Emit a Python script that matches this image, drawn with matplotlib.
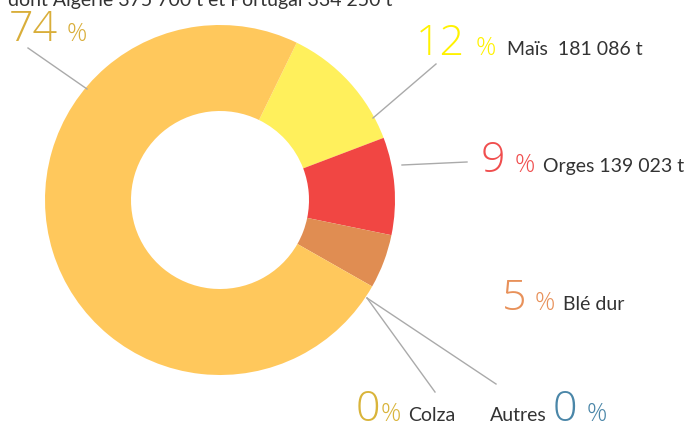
import matplotlib.pyplot as plt

# Répartition (%) - ordre horaire depuis le haut à droite
labels = ['Maïs', 'Orges', 'Blé dur', 'Colza', 'Autres', 'Blé tendre']
shares = [12, 9, 5, 0, 0, 74]
colors = ['#FFF05C', '#F14643', '#E08D52', '#E0B040', '#4A86A8', '#FFC85C']
pct_colors = ['#FFF200', '#F04E4E', '#E8915A', '#D9B43A', '#4A86A8', '#D9AE3A']
tonnages = ['181 086 t', '139 023 t', '', '', '', '']
header = "dont Algérie 375 700 t et Portugal 334 250 t"

W, H = 696, 425
CX, CY, R, R_IN = 220, 425 - 200, 175, 89

plt.rcParams['font.family'] = ['Lato', 'DejaVu Sans']

fig = plt.figure(figsize=(W / 100, H / 100), dpi=100)
ax = fig.add_axes([0, 0, 1, 1])
ax.pie(shares, colors=colors, startangle=64, counterclock=False,
       center=(CX, CY), radius=R, frame=True,
       wedgeprops=dict(width=R - R_IN, linewidth=0))
ax.set_xlim(0, W)
ax.set_ylim(0, H)
ax.set_aspect('equal')
ax.axis('off')

grey = '#AAAAAA'
dark = '#333333'


def line(x0, y0, x1, y1):
    ax.plot([x0, x1], [H - y0, H - y1], color=grey, lw=1)


def txt(x, y, s, size, color, thin=False):
    kw = dict(family=['Open Sans', 'DejaVu Sans'], fontweight='light') if thin else {}
    ax.text(x, H - y, s, fontsize=size, color=color, ha='left', va='baseline', **kw)


# header cut at top edge
txt(8, 6, header, 14, dark)

# leader lines
line(28, 48, 87, 89)
line(436, 64, 373, 118)
line(402, 165, 467, 162)
line(367, 298, 435, 392)
line(367, 298, 496, 384)

# 74 %
txt(9, 41, f"{shares[5]}", 31, pct_colors[5], True)
txt(67, 41, "%", 18, pct_colors[5], True)
# 12 % Maïs
txt(416, 55, f"{shares[0]}", 31, pct_colors[0], True)
txt(476, 55, "%", 18, pct_colors[0], True)
txt(507, 55, f"{labels[0]}  {tonnages[0]}", 14, dark)
# 9 % Orges
txt(481, 172, f"{shares[1]}", 31, pct_colors[1], True)
txt(515, 172, "%", 18, pct_colors[1], True)
txt(543, 172, f"{labels[1]} {tonnages[1]}", 14, dark)
# 5 % Blé dur
txt(502, 310, f"{shares[2]}", 31, pct_colors[2], True)
txt(535, 310, "%", 18, pct_colors[2], True)
txt(563, 310, labels[2], 14, dark)
# 0% Colza
txt(356, 421, f"{shares[3]}", 31, pct_colors[3], True)
txt(381, 421, "%", 18, pct_colors[3], True)
txt(408, 421, labels[3], 14, dark)
# Autres 0 %
txt(490, 421, labels[4], 14, dark)
txt(553, 421, f"{shares[4]}", 31, pct_colors[4], True)
txt(587, 421, "%", 18, pct_colors[4], True)

fig.savefig('out.png', dpi=100)
